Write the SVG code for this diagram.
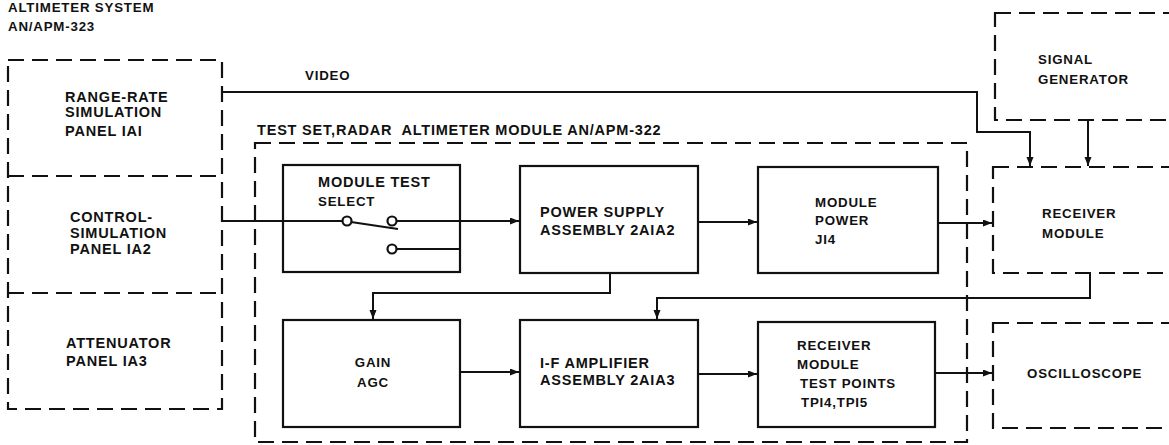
<svg xmlns="http://www.w3.org/2000/svg" width="1169" height="445" viewBox="0 0 1169 445">
<style>
text{font-family:"Liberation Sans",Arial,sans-serif;font-weight:bold;font-size:14.5px;fill:#111;letter-spacing:0.8px}
.sm{font-size:13.3px}
.solid{fill:none;stroke:#111;stroke-width:2.2}
.dash{fill:none;stroke:#111;stroke-width:2.2;stroke-dasharray:16 8}
.wire{fill:none;stroke:#111;stroke-width:2}
.arr{marker-end:url(#ah)}
</style>
<defs>
<marker id="ah" markerUnits="userSpaceOnUse" markerWidth="10" markerHeight="8" refX="9" refY="3.5" orient="auto">
<path d="M0,0 L9,3.5 L0,7 z" fill="#111"/>
</marker>
</defs>
<rect width="1169" height="445" fill="#fff"/>

<g id="title">
<text x="8" y="12" class="sm">ALTIMETER SYSTEM</text>
<text x="8" y="31" class="sm">AN/APM-323</text>
</g>

<g id="panels">
<rect class="dash" x="8" y="60" width="214" height="349"/>
<line class="dash" x1="8" y1="176" x2="222" y2="176"/>
<line class="dash" x1="8" y1="293" x2="222" y2="293"/>
</g>
<g id="range-rate">
<text x="65" y="102">RANGE-RATE</text>
<text x="65" y="117">SIMULATION</text>
<text x="65" y="136">PANEL IAI</text>
</g>
<g id="control">
<text x="70" y="222">CONTROL-</text>
<text x="70" y="238">SIMULATION</text>
<text x="70" y="254">PANEL IA2</text>
</g>
<g id="attenuator">
<text x="66" y="348">ATTENUATOR</text>
<text x="66" y="366">PANEL IA3</text>
</g>

<g id="test-set">
<rect class="dash" x="255" y="143" width="712" height="299"/>
<text x="257" y="135" xml:space="preserve">TEST SET,RADAR  ALTIMETER MODULE AN/APM-322</text>
</g>

<g id="module-test">
<rect class="solid" x="283" y="165" width="177" height="107"/>
<text x="318" y="187">MODULE TEST</text>
<text x="318" y="206" class="sm">SELECT</text>
<circle cx="347" cy="221" r="4.5" fill="#fff" stroke="#111" stroke-width="2.2"/>
<circle cx="392" cy="221" r="4.5" fill="#fff" stroke="#111" stroke-width="2.2"/>
<circle cx="392" cy="249" r="4.5" fill="#fff" stroke="#111" stroke-width="2.2"/>
<line class="wire" x1="351" y1="222" x2="398" y2="229"/>
</g>

<g id="power-supply">
<rect class="solid" x="520" y="166" width="178" height="107"/>
<text x="540" y="217">POWER SUPPLY</text>
<text x="540" y="235">ASSEMBLY 2AIA2</text>
</g>

<g id="module-power">
<rect class="solid" x="758" y="167" width="180" height="106"/>
<text x="815" y="207" class="sm">MODULE</text>
<text x="815" y="225" class="sm">POWER</text>
<text x="815" y="244" class="sm">JI4</text>
</g>

<g id="gain-agc">
<rect class="solid" x="283" y="320" width="177" height="107"/>
<text x="373" y="367" text-anchor="middle" class="sm">GAIN</text>
<text x="373" y="387" text-anchor="middle" class="sm">AGC</text>
</g>

<g id="if-amp">
<rect class="solid" x="520" y="320" width="178" height="107"/>
<text x="540" y="368">I-F AMPLIFIER</text>
<text x="540" y="385">ASSEMBLY 2AIA3</text>
</g>

<g id="receiver-tp">
<rect class="solid" x="758" y="322" width="177" height="105"/>
<text x="797" y="350" class="sm">RECEIVER</text>
<text x="797" y="369" class="sm">MODULE</text>
<text x="800" y="388" class="sm">TEST POINTS</text>
<text x="801" y="407" class="sm">TPI4,TPI5</text>
</g>

<g id="signal-generator">
<rect class="dash" x="995" y="13" width="200" height="107"/>
<text x="1038" y="64" class="sm">SIGNAL</text>
<text x="1038" y="84" class="sm">GENERATOR</text>
</g>

<g id="receiver-module">
<rect class="dash" x="993" y="167" width="200" height="106"/>
<text x="1042" y="218" class="sm">RECEIVER</text>
<text x="1042" y="238" class="sm">MODULE</text>
</g>

<g id="oscilloscope">
<rect class="dash" x="993" y="323" width="200" height="105"/>
<text x="1027" y="378" class="sm">OSCILLOSCOPE</text>
</g>

<g id="connectors">
<path class="wire arr" d="M222,92 H977 V132 H1030 V166"/>
<text x="305" y="80" class="sm">VIDEO</text>
<path class="wire arr" d="M1088,120 V166"/>
<path class="wire" d="M222,221 H342.5"/>
<path class="wire arr" d="M396.5,221 H519"/>
<path class="wire" d="M396.5,249 H460"/>
<path class="wire arr" d="M698,222 H757"/>
<path class="wire arr" d="M938,223 H992"/>
<path class="wire arr" d="M610,273 V293 H373 V319"/>
<path class="wire arr" d="M1090,273 V298 H657 V319"/>
<path class="wire arr" d="M460,372 H519"/>
<path class="wire arr" d="M698,374 H757"/>
<path class="wire arr" d="M935,373 H992"/>
</g>
</svg>
